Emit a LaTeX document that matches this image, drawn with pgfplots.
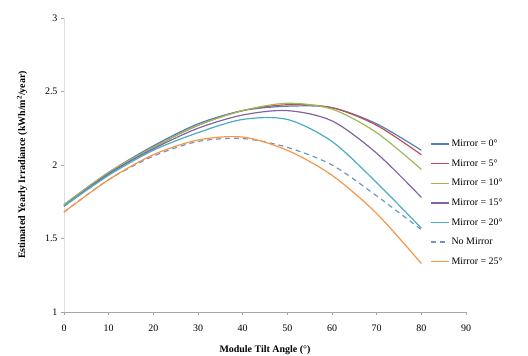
\documentclass[border=0pt]{standalone}
\usepackage{pgfplots}
\pgfplotsset{compat=1.18}
\usepackage{fontspec}
\setmainfont{Liberation Serif}
\definecolor{c0}{HTML}{4F81BD}
\definecolor{c5}{HTML}{C0504D}
\definecolor{c10}{HTML}{9BBB59}
\definecolor{c15}{HTML}{8064A2}
\definecolor{c20}{HTML}{4BACC6}
\definecolor{cnm}{HTML}{6F95C8}
\definecolor{c25}{HTML}{F79646}
\begin{document}
\begin{tikzpicture}[x=1bp,y=1bp]
\path[use as bounding box] (-64,-43) rectangle (464,312);
\begin{axis}[
  at={(0,0)}, anchor=origin,
  scale only axis, width=402bp, height=294bp,
  xmin=0, xmax=90, ymin=1, ymax=3,
  xtick={0,10,...,90}, ytick={1,1.5,2,2.5,3},
  axis lines=left,
  axis line style={-, gray!70, line width=0.6pt},
  y axis line style={draw=gray!25},
  tick style={gray!70, line width=0.5pt},
  tick align=outside, major tick length=3bp,
  font=\fontsize{10}{12}\selectfont,
  /pgf/number format/assume math mode=true,
  yticklabel style={/pgf/number format/fixed, /pgf/number format/precision=1},
  xticklabel style={yshift=-6bp},
  xlabel={\textbf{Module Tilt Angle (°)}},
  ylabel={\textbf{Estimated Yearly Irradiance (kWh/m\textsuperscript{2}/year)}},
  xlabel style={at={(axis description cs:0.5,-0.129)}, anchor=center},
  ylabel style={at={(axis description cs:-0.104,0.5)}, anchor=center},
  every axis plot/.append style={line width=1.2pt, no marks},
  legend style={draw=none, fill=none, at={(0.91,0.371)}, anchor=west, inner sep=0pt,
    font=\fontsize{10}{12}\selectfont, row sep=7.5bp, cells={anchor=west}},
  legend image code/.code={\draw[#1, sharp plot, line width=1.5pt] plot coordinates {(0bp,0bp) (18bp,0bp)};},
  legend cell align=left,
  clip=false,
]
\addplot[c0, smooth] coordinates {(0,1.73)(10,1.95)(20,2.13)(30,2.28)(40,2.37)(50,2.40)(60,2.39)(70,2.28)(80,2.10)};
\addlegendentry{Mirror = 0°}
\addplot[c5, smooth] coordinates {(0,1.72)(10,1.94)(20,2.12)(30,2.27)(40,2.37)(50,2.41)(60,2.39)(70,2.27)(80,2.07)};
\addlegendentry{Mirror = 5°}
\addplot[c10, smooth] coordinates {(0,1.73)(10,1.95)(20,2.12)(30,2.27)(40,2.37)(50,2.42)(60,2.38)(70,2.22)(80,1.97)};
\addlegendentry{Mirror = 10°}
\addplot[c15, smooth] coordinates {(0,1.72)(10,1.94)(20,2.11)(30,2.25)(40,2.34)(50,2.37)(60,2.30)(70,2.08)(80,1.78)};
\addlegendentry{Mirror = 15°}
\addplot[c20, smooth] coordinates {(0,1.72)(10,1.93)(20,2.10)(30,2.22)(40,2.31)(50,2.31)(60,2.16)(70,1.88)(80,1.57)};
\addlegendentry{Mirror = 20°}
\addplot[cnm, smooth, dash pattern=on 5bp off 4bp] coordinates {(0,1.68)(10,1.90)(20,2.06)(30,2.16)(40,2.18)(50,2.12)(60,2.00)(70,1.79)(80,1.56)};
\addlegendentry{No Mirror}
\addplot[c25, smooth] coordinates {(0,1.68)(10,1.90)(20,2.07)(30,2.17)(40,2.19)(50,2.10)(60,1.93)(70,1.67)(80,1.33)};
\addlegendentry{Mirror = 25°}
\end{axis}
\end{tikzpicture}
\end{document}
